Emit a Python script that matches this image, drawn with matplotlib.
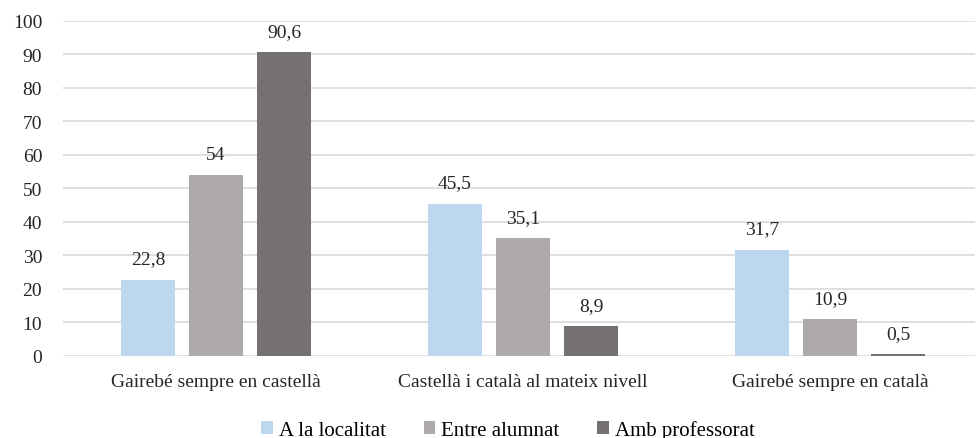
import numpy as np
import matplotlib.pyplot as plt

categories = ['Gairebé sempre en castellà', 'Castellà i català al mateix nivell', 'Gairebé sempre en català']
series = ['A la localitat', 'Entre alumnat', 'Amb professorat']
localitat = [22.8, 45.5, 31.7]
alumnat = [54, 35.1, 10.9]
professorat = [90.6, 8.9, 0.5]
colors = ['#BDD7EE', '#AEAAAA', '#767171']

plt.rcParams['font.family'] = ['Liberation Serif', 'DejaVu Serif']

fig = plt.figure(figsize=(9.77, 4.39), dpi=100)
ax = fig.add_axes([0.0645, 0.187, 0.9335, 0.763])

x = np.arange(len(categories))
width = 0.176
step = 0.2215
for i, (vals, name) in enumerate(zip([localitat, alumnat, professorat], series)):
    pos = x + (i - 1) * step
    ax.bar(pos, vals, width, color=colors[i], label=name, zorder=3)
    for p, v in zip(pos, vals):
        ax.annotate(f'{v:g}'.replace('.', ','), (p, v), xytext=(0, 9),
                    textcoords='offset points', ha='center', va='bottom',
                    fontsize=14, color='#262626')

ax.set_ylim(0, 100)
ax.set_xlim(-0.498, 2.472)
ax.set_yticks(range(0, 101, 10))
ax.yaxis.grid(True, color='#D9D9D9', linewidth=1.2, zorder=0)
ax.set_xticks(x)
ax.set_xticklabels(categories)
ax.tick_params(axis='both', length=0, labelsize=14, labelcolor='#262626')
ax.tick_params(axis='x', pad=12)
ax.tick_params(axis='y', pad=15)
for s in ax.spines.values():
    s.set_visible(False)

ax.legend(loc='upper center', bbox_to_anchor=(0.488, -0.135), ncol=3, frameon=False,
          fontsize=15, handlelength=0.55, handleheight=0.55, handletextpad=0.3,
          columnspacing=1.8)

fig.savefig('out.png', dpi=100)
